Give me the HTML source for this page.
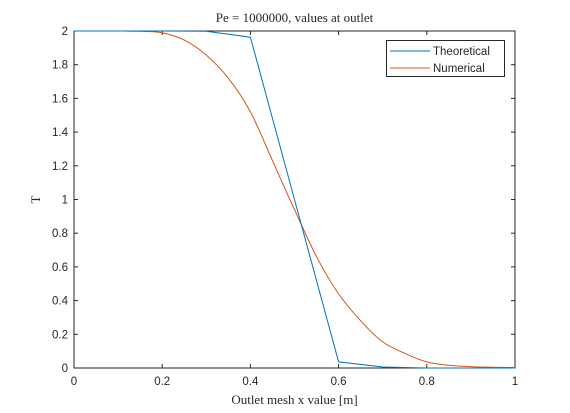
<!DOCTYPE html>
<html><head><meta charset="utf-8"><style>
body{margin:0;background:#fff;}
svg{display:block;}
.tk{font-family:"Liberation Sans",sans-serif;font-size:11.5px;fill:#262626;}
.sr{font-family:"Liberation Serif",serif;font-size:13px;fill:#262626;}
</style></head><body>
<svg id="chart" width="570" height="413" xmlns="http://www.w3.org/2000/svg">
<rect width="570" height="413" fill="#fff"/>
<g id="marks"></g>
</svg>
<script>
const xTicks=[0,0.2,0.4,0.6,0.8,1];
const yTicks=[0,0.2,0.4,0.6,0.8,1,1.2,1.4,1.6,1.8,2];
const xTickLabels=["0","0.2","0.4","0.6","0.8","1"];
const yTickLabels=["0","0.2","0.4","0.6","0.8","1","1.2","1.4","1.6","1.8","2"];
const theoX=[0,0.1,0.2,0.3,0.4,0.5,0.6,0.7,0.8,0.9,1];
const theoY=[2,2,2,1.998,1.963,1.0,0.036,0.006,0,0,0];
const numX=[0,0.1,0.15,0.2,0.25,0.3,0.35,0.4,0.45,0.5,0.55,0.6,0.65,0.7,0.75,0.8,0.85,0.9,0.95,1];
const numY=[2,2,1.998,1.99,1.946,1.857,1.72,1.52,1.23,0.94,0.66,0.44,0.28,0.155,0.087,0.036,0.016,0.008,0.004,0.003];
const L=74,R=515,T=31,B=368;
const sx=v=>L+(R-L)*v, sy=v=>B-(B-T)*v/2;
const NS="http://www.w3.org/2000/svg";
const g=document.getElementById('marks');
function mk(t,a,txt){const e=document.createElementNS(NS,t);for(const k in a)e.setAttribute(k,a[k]);if(txt!==undefined)e.textContent=txt;g.appendChild(e);return e;}
let box=mk('rect',{x:L,y:T,width:R-L,height:B-T,fill:'none',stroke:'#262626','stroke-width':1});


xTicks.forEach((v,i)=>{
 let t=mk('line',{x1:sx(v),x2:sx(v),y1:B,y2:B-4,stroke:'#262626'});
 
 
 mk('line',{x1:sx(v),x2:sx(v),y1:T,y2:T+4,stroke:'#262626'});
 let l=mk('text',{x:sx(v),y:B+17,'text-anchor':'middle',class:'tk'},xTickLabels[i]);
 
 
});
yTicks.forEach((v,i)=>{
 let t=mk('line',{x1:L,x2:L+4,y1:sy(v),y2:sy(v),stroke:'#262626'});
 
 
 mk('line',{x1:R,x2:R-4,y1:sy(v),y2:sy(v),stroke:'#262626'});
 let l=mk('text',{x:L-6,y:sy(v)+4,'text-anchor':'end',class:'tk'},yTickLabels[i]);
 
 
});
function path(xs,ys,c,name,smooth){
 let pts=xs.map((x,i)=>[sx(x),sy(ys[i])]);
 let d='M'+pts[0][0].toFixed(1)+','+pts[0][1].toFixed(1);
 for(let i=1;i<pts.length;i++){
  if(smooth){
   const p0=pts[Math.max(i-2,0)],p1=pts[i-1],p2=pts[i],p3=pts[Math.min(i+1,pts.length-1)];
   const c1=[p1[0]+(p2[0]-p0[0])/6,p1[1]+(p2[1]-p0[1])/6];
   const c2=[p2[0]-(p3[0]-p1[0])/6,p2[1]-(p3[1]-p1[1])/6];
   d+='C'+c1[0].toFixed(1)+','+c1[1].toFixed(1)+' '+c2[0].toFixed(1)+','+c2[1].toFixed(1)+' '+p2[0].toFixed(1)+','+p2[1].toFixed(1);
  } else d+='L'+pts[i][0].toFixed(1)+','+pts[i][1].toFixed(1);
 }
 let p=mk('path',{d:d,fill:'none',stroke:c,'stroke-width':1});
 
 
}
path(numX,numY,'#d95319','numerical-line',true);
path(theoX,theoY,'#0072bd','theoretical-line',false);
let ti=mk('text',{x:(L+R)/2,y:22,'text-anchor':'middle',class:'sr'},'Pe = 1000000, values at outlet');


let xt=mk('text',{x:(L+R)/2,y:404,'text-anchor':'middle',class:'sr'},'Outlet mesh x value [m]');


let yt=mk('text',{x:40,y:(T+B)/2,'text-anchor':'middle',class:'sr',transform:'rotate(-90 40 '+(T+B)/2+')'},'T');


let lg=mk('rect',{x:386.5,y:40.5,width:118,height:36,fill:'#fff',stroke:'#262626'});


mk('line',{x1:390,x2:430,y1:51,y2:51,stroke:'#0072bd'});
mk('line',{x1:390,x2:430,y1:68,y2:68,stroke:'#d95319'});
let e1=mk('text',{x:433,y:55,class:'tk'},'Theoretical');


let e2=mk('text',{x:433,y:72,class:'tk'},'Numerical');


</script>
</body></html>
